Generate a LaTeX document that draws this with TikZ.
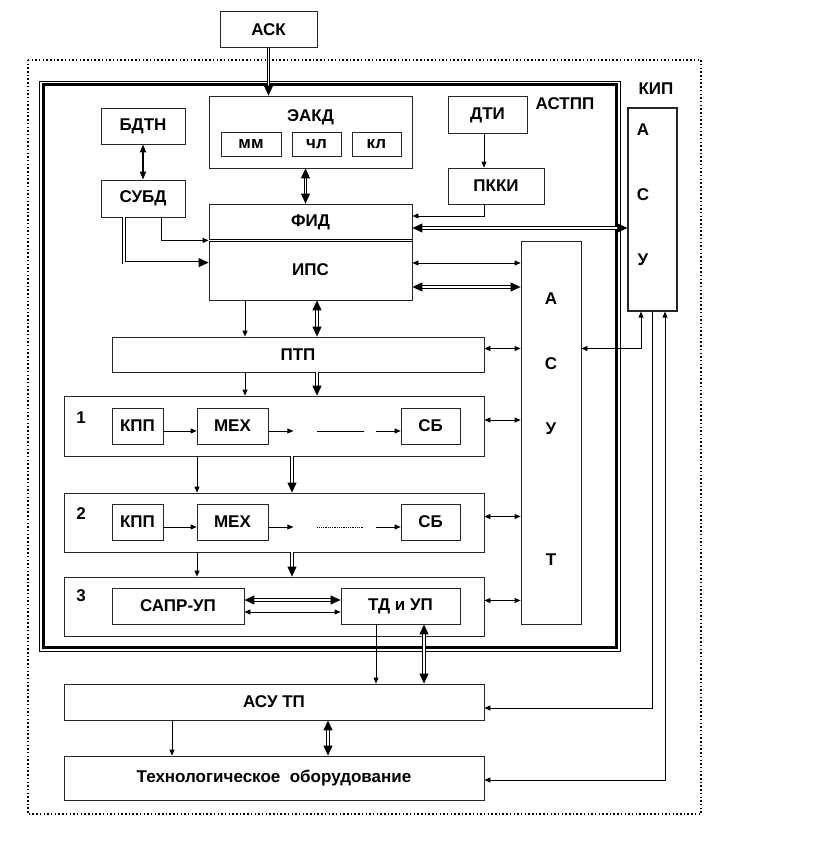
\documentclass[tikz,border=0pt]{standalone}
\usepackage{fontspec}
\setmainfont{Liberation Sans}
\usetikzlibrary{arrows.meta}

\begin{document}
\begin{tikzpicture}[x=1pt,y=-1pt,
  blk/.style={draw=black!85,line width=0.8pt,rectangle,inner sep=0pt,font=\bfseries\fontsize{17}{19}\selectfont},
  txt/.style={inner sep=0pt,font=\bfseries\fontsize{17}{19}\selectfont},
  ln/.style={draw=black,line width=0.8pt},
  mid1/.style={ln},
  mid2/.style={ln,densely dotted,line width=0.5pt},
  arr/.style={ln,-{Triangle[length=6pt,width=5pt]}},
  arrs/.style={ln,{Triangle[length=6pt,width=5pt]}-{Triangle[length=6pt,width=5pt]}},
  dbl/.style={double,line width=0.9pt,double distance=1.8pt,line join=miter,-{Triangle[length=10pt,width=9pt]}},
  dbls/.style={dbl,{Triangle[length=10pt,width=9pt]}-{Triangle[length=10pt,width=9pt]}}]
\useasboundingbox (0,0) rectangle (828,864);
% frames
\draw[line width=2.2pt,dash pattern=on 1.5pt off 2.2pt] (28,60) rectangle (701,814);
\draw[line width=0.8pt] (39,81) rectangle (620,651);
\draw[line width=3pt] (43,85) rectangle (616,647);
\node[txt] (astpp) at (565,104) {АСТПП};
\node[txt] (kipt) at (656,89) {КИП};
% blocks
\node[blk,line width=1pt,minimum width=97,minimum height=36] (ask) at (268.5,29.5) {АСК};
\node[blk,minimum width=84,minimum height=36] (bdtn) at (143,126) {БДТН};
\node[blk,minimum width=84,minimum height=37] (subd) at (143,198.5) {СУБД};
\node[blk,minimum width=203,minimum height=72] (eakd) at (310.5,132) {};
\node[txt] (eakdt) at (310.5,117) {ЭАКД};
\node[blk,minimum width=60,minimum height=24] (mm) at (251,144) {мм};
\node[blk,minimum width=49,minimum height=24] (chl) at (316.5,144) {чл};
\node[blk,minimum width=49,minimum height=24] (kl) at (376.5,144) {кл};
\node[blk,minimum width=79,minimum height=37] (dti) at (487.5,115) {ДТИ};
\node[blk,minimum width=96,minimum height=36] (pkki) at (496,186) {ПККИ};
\node[blk,minimum width=203,minimum height=36] (fid) at (310.5,222) {ФИД};
\node[blk,minimum width=203,minimum height=60] (ips) at (310.5,270) {ИПС};
\node[blk,minimum width=60,minimum height=383] (asut) at (551,432.5) {};
\foreach \t/\y [count=\i] in {А/299,С/364,У/429,Т/560}
  \node[txt] (asutl\i) at (551,\y) {\t};
\node[blk,line width=1.2pt,minimum width=49,minimum height=203] (kip) at (652.5,209.5) {};
\foreach \t/\y [count=\i] in {А/130,С/195,У/260}
  \node[txt] (kipl\i) at (643,\y) {\t};
\node[blk,minimum width=372,minimum height=35] (ptp) at (298,354.5) {ПТП};
\node[blk,minimum width=420,minimum height=60] (r1) at (274,426) {};
\node[blk,minimum width=420,minimum height=59] (r2) at (274,522.5) {};
\node[blk,minimum width=420,minimum height=59] (r3) at (274,606.5) {};
\foreach \r/\y in {1/418,2/514,3/596}
  \node[txt] (n\r) at (81,\y) {\r};
\foreach \r/\y in {1/426,2/522} {
  \node[blk,minimum width=51,minimum height=36] (kpp\r) at (137.5,\y) {КПП};
  \node[blk,minimum width=71,minimum height=36] (mex\r) at (232.5,\y) {МЕХ};
  \node[blk,minimum width=59,minimum height=36] (sb\r) at (430.5,\y) {СБ};
  \draw[arr] ([yshift=-5]kpp\r.east) -- ([yshift=-5]mex\r.west);
  \draw[arr] ([yshift=-5]mex\r.east) -- ([xshift=25,yshift=-5]mex\r.east);
  \draw[mid\r] ([xshift=49,yshift=-5]mex\r.east) -- ([xshift=-37,yshift=-5]sb\r.west);
  \draw[arr] ([xshift=-25,yshift=-5]sb\r.west) -- ([yshift=-5]sb\r.west);
}
\node[blk,minimum width=132,minimum height=36] (sapr) at (178,606) {САПР-УП};
\node[blk,minimum width=119,minimum height=36] (tdup) at (400.5,606) {ТД и УП};
\node[blk,minimum width=420,minimum height=36] (asutp) at (274,702) {АСУ ТП};
\node[blk,minimum width=420,minimum height=44] (tech) at (274,778) {Технологическое\ \ оборудование};
% columns
\coordinate (xa) at (245,0);
\coordinate (xb) at (317,0);
\coordinate (xc) at (197,0);
\coordinate (xd) at (292,0);
\coordinate (xe) at (484,0);
% links
\draw[dbl,line width=0.6pt,double distance=1.2pt] (ask.south) -- (ask.south |- eakd.north);
\draw[ln,line width=1.6pt,{Triangle[length=8pt,width=6pt]}-{Triangle[length=8pt,width=6pt]}] (bdtn) -- (subd);
\draw[arr] ([xshift=18]subd.south) |- (fid.south west);
\draw[dbl] ([xshift=-19]subd.south) |- ([yshift=-23]ips.north west);
\draw[dbls] ([xshift=-5]eakd.south) -- ([xshift=-5]fid.north);
\draw[arr] (dti.south -| xe) -- (pkki.north -| xe);
\draw[arr] (pkki.south -| xe) |- ([yshift=6]fid.east);
\draw[dbls,line width=1.1pt] ([yshift=-6]fid.east) -- ([yshift=-6]fid.east -| kip.west);
\draw[double,line width=0.8pt,double distance=1.6pt] (fid.south west) -- (fid.south east);
\draw[arrs] ([yshift=7]ips.east) -- ([yshift=7]ips.east -| asut.west);
\draw[dbls] ([yshift=-17]ips.east) -- ([yshift=-17]ips.east -| asut.west);
\draw[arr] (ips.south -| xa) -- (ptp.north -| xa);
\draw[dbls] (ips.south -| xb) -- (ptp.north -| xb);
\draw[arrs] ([yshift=6]ptp.east) -- ([yshift=6]ptp.east -| asut.west);
\draw[arrs] ([yshift=6]ptp.east -| asut.east) -| ([xshift=-11.5]kip.south);
\draw[arr] (ptp.south -| xa) -- (r1.north -| xa);
\draw[dbl] (ptp.south -| xb) -- (r1.north -| xb);
\foreach \u/\v in {r1/r2,r2/r3} {
  \draw[arr] (\u.south -| xc) -- (\v.north -| xc);
  \draw[dbl] (\u.south -| xd) -- (\v.north -| xd);
}
\foreach \u in {r1,r2,r3}
  \draw[arrs] ([yshift=6]\u.east) -- ([yshift=6]\u.east -| asut.west);
\draw[dbls] ([yshift=6]sapr.east) -- ([yshift=6]tdup.west);
\draw[arrs] ([yshift=-6]sapr.east) -- ([yshift=-6]tdup.west);
\draw[arr] ([xshift=-24.5]tdup.south) -- ([xshift=-24.5]tdup.south |- asutp.north);
\draw[dbls] ([xshift=23.5]tdup.south) -- ([xshift=23.5]tdup.south |- asutp.north);
\draw[arr] ([xshift=-102]asutp.south) -- ([xshift=-102]tech.north);
\draw[dbls] ([xshift=54]asutp.south) -- ([xshift=54]tech.north);
\draw[arr] (kip.south) |- ([yshift=-6]asutp.east);
\draw[arrs] ([xshift=12.5]kip.south) |- ([yshift=-2]tech.east);
\end{tikzpicture}
\end{document}
